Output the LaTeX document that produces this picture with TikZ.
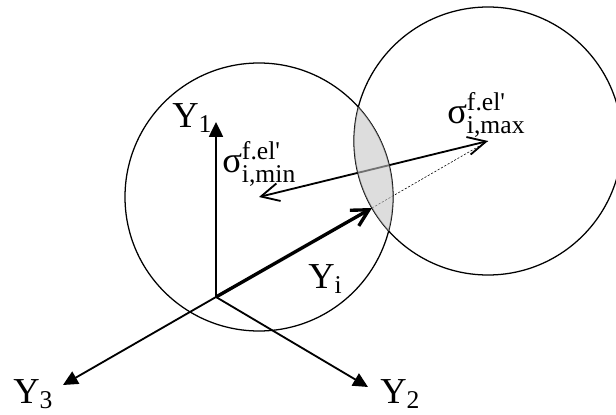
\documentclass[tikz,border=0pt]{standalone}
\usepackage{fontspec}
\setmainfont{Liberation Serif}
\usepackage{amsmath}
\usetikzlibrary{arrows.meta}

\begin{document}
\begin{tikzpicture}[
        >=Stealth,
        axis/.style={-{Triangle[length=3.7mm, width=3.5mm]}, line width=1.3pt},
        stress/.style={{Straight Barb[length=4.5mm, width=4.5mm]}-{Straight Barb[length=4.5mm, width=4.5mm]}, line width=1.3pt},
        vect/.style={-{Straight Barb[length=4.2mm, width=4.5mm]}, line width=2.4pt},
        circ/.style={line width=0.9pt},
        lbl/.style={anchor=base west, inner sep=0pt, font=\fontsize{26}{30}\selectfont}
    ]

% Размеры рисунка
        \useasboundingbox (0,0) rectangle (15.4,10.35);

% Основные точки
        \coordinate (O) at (5.4,2.925); % начало координат
        \coordinate (c1) at (6.475,5.425); % центр левой окружности
        \coordinate (c2) at (12.2,6.825); % центр правой окружности
        \coordinate (y1) at (5.4,7.3);
        \coordinate (y2) at (9.2,0.675);
        \coordinate (y3) at (1.575,0.725);
        \coordinate (yi) at (9.3,5.15);

% Окружности
        \draw[circ] (c1) circle (3.35);
        \draw[circ] (c2) circle (3.35);

% Оси координат
        \draw[axis] (O) -- (y1);
        \draw[axis] (O) -- (y2);
        \draw[axis] (O) -- (y3);

% Вектор Y_i и пунктир до центра
        \draw[vect] (O) -- (yi);
        \draw[dashed, line width=0.4pt, dash pattern=on 1.5pt off 1.2pt] (yi) -- (c2);

% Напряжения min и max
        \draw[stress] (c1) -- (c2);

% Пересечение окружностей
        \begin{scope}
            \clip (c1) circle (3.35);
            \fill[black!23, opacity=0.58] (c2) circle (3.35);
        \end{scope}

% Подписи
        \node[lbl] (ly1) at (4.3,7.175) {Y$_{\text{1}}$};
        \node[lbl] (ly2) at (9.5,0.26) {Y$_{\text{2}}$};
        \node[lbl] (ly3) at (0.325,0.26) {Y$_{\text{3}}$};
        \node[lbl] (lyi) at (7.7,3.15) {Y$_{\text{i}}$};
        \node[lbl] (lmin) at (5.55,6.05) {σ$^{\text{f.el\textquotesingle}}_{\text{i,min}}$};
        \node[lbl] (lmax) at (11.175,7.275) {σ$^{\text{f.el\textquotesingle}}_{\text{i,max}}$};
    \end{tikzpicture}
\end{document}
